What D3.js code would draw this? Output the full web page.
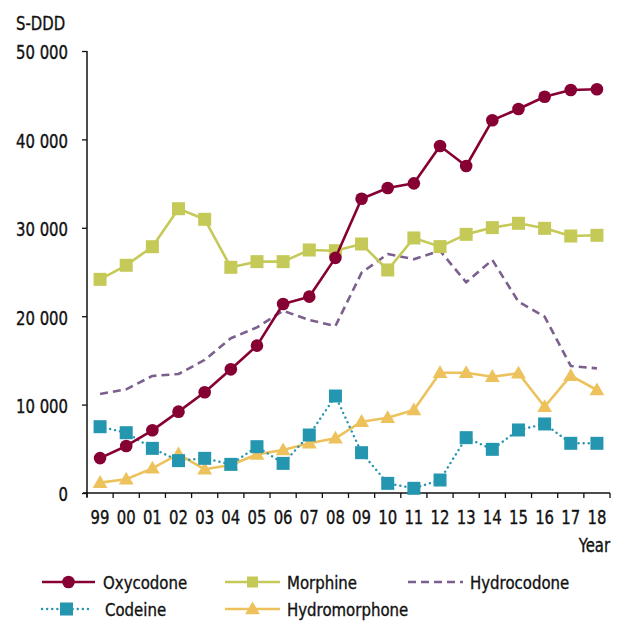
<!DOCTYPE html>
<html><head><meta charset="utf-8">
<script src="https://cdn.jsdelivr.net/npm/d3@7"></script>
<style>
body{margin:0;background:#fff;}
text{font-family:"DejaVu Sans Condensed","DejaVu Sans",sans-serif;font-stretch:condensed;fill:#111;stroke:#111;stroke-width:0.35px;}
</style></head><body>
<svg id="c" width="619" height="621"></svg>
<script>
const years = ["99","00","01","02","03","04","05","06","07","08","09","10","11","12","13","14","15","16","17","18"];
const oxycodone = [3950,5320,7090,9200,11390,13990,16670,21380,22210,26600,33290,34500,35030,39250,36990,42160,43440,44830,45590,45670];
const morphine = [24170,25760,27860,32160,30960,25530,26170,26170,27490,27410,28170,25230,28850,27870,29260,30020,30510,29940,29070,29150];
const hydrocodone = [11200,11730,13240,13460,15050,17500,18740,20620,19570,18890,24920,27040,26440,27400,23830,26360,21640,19950,14370,14100];
const codeine = [7500,6820,5050,3660,3920,3240,5240,3350,6560,10970,4560,1090,530,1470,6260,4940,7130,7810,5620,5620];
const hydromorphone = [1170,1550,2790,4410,2680,3170,4370,4860,5620,6190,8070,8520,9390,13600,13600,13160,13540,9760,13270,11650];
const yTicks = [0,10000,20000,30000,40000,50000];
const seriesNames = ["Oxycodone","Morphine","Hydrocodone","Codeine","Hydromorphone"];

const series = [
  {name:"Oxycodone", values:oxycodone, color:"#870033", marker:"circle", dash:null},
  {name:"Morphine", values:morphine, color:"#c5c957", marker:"square", dash:null},
  {name:"Hydrocodone", values:hydrocodone, color:"#7b5f8e", marker:null, dash:"8,5"},
  {name:"Codeine", values:codeine, color:"#2596b0", marker:"square", dash:"0.1,5"},
  {name:"Hydromorphone", values:hydromorphone, color:"#edc25c", marker:"triangle", dash:null}
];

const SX = 0.87;
const FS = 19;
const svg = d3.select("#c");
const L=87, R=610, T=51, B=493;
const x = d3.scaleBand().domain(years).range([L,R]);
const y = d3.scaleLinear().domain([0,50000]).range([B,T]);
const fmt = v => v===0 ? "0" : d3.format(",")(v).replace(/,/g," ");

// axes
const yAxis = svg.append("g").attr("transform",`translate(${L},0)`)
  .call(d3.axisLeft(y).tickValues(yTicks).tickSize(5).tickPadding(14).tickFormat(fmt));
yAxis.select(".domain").attr("d",`M0,${T}V${B+4}`).attr("stroke","#111").attr("stroke-width",1.5);
yAxis.selectAll(".tick line").attr("stroke","#111").attr("stroke-width",1.3);
yAxis.selectAll(".tick text").style("font-size",FS+"px").attr("dy","0.42em").attr("fill","#111")
  .attr("x",-19/SX).attr("transform",`scale(${SX},1)`);

const xAxis = svg.append("g").attr("transform",`translate(0,${B})`)
  .call(d3.axisBottom(x).tickSize(0).tickPadding(10));
xAxis.select(".domain").attr("d",`M${L-4},0H${R}`).attr("stroke","#111").attr("stroke-width",1.5);
xAxis.selectAll(".tick text").style("font-size",FS+"px").attr("fill","#111").attr("dy","1.1em")
  .attr("transform",`scale(${SX},1)`);
const bounds = years.map(d=>x(d)).concat([R]);
svg.append("g").selectAll("line").data(bounds).join("line")
  .attr("x1",d=>d).attr("x2",d=>d).attr("y1",B).attr("y2",B+5)
  .attr("stroke","#111").attr("stroke-width",1.3);

function label(px, py, str, size, anchor){
  return svg.append("text").attr("transform",`translate(${px},${py}) scale(${SX},1)`)
    .attr("text-anchor",anchor||"start").style("font-size",size+"px").text(str);
}
label(16, 30, "S-DDD", FS);
label(R, 552, "Year", FS, "end");

const cx = d => x(d) + x.bandwidth()/2;
const line = d3.line().x((d,i)=>cx(years[i])).y(d=>y(d));

function drawMarker(g, type, px, py, color, sq){
  if(type==="circle") g.append("circle").attr("cx",px).attr("cy",py).attr("r",6.3).attr("fill",color);
  else if(type==="square"){ const s = sq||13; g.append("rect").attr("x",px-s/2).attr("y",py-s/2).attr("width",s).attr("height",s).attr("fill",color); }
  else if(type==="triangle") g.append("path").attr("d",d3.symbol().type(d3.symbolTriangle).size(95)()).attr("transform",`translate(${px},${py+1})`).attr("fill",color);
}

const order = [2,4,3,1,0];
order.forEach(k=>{
  const s = series[k];
  const g = svg.append("g");
  g.append("path").datum(s.values).attr("d",line).attr("fill","none")
    .attr("stroke",s.color).attr("stroke-width",s.name==="Codeine"?2.4:2.6)
    .attr("stroke-dasharray",s.dash).attr("stroke-linecap",s.name==="Codeine"?"round":"butt")
    .attr("stroke-linejoin","round");
  if(s.marker) s.values.forEach((v,i)=>drawMarker(g,s.marker,cx(years[i]),y(v),s.color));
});

// legend
const legPos = [
  {lx:42, lw:53, tx:103, y:582, sq:13},
  {lx:225, lw:55, tx:287, y:582, sq:11},
  {lx:408, lw:55, tx:470, y:582, sq:13},
  {lx:42, lw:49, tx:105, y:609, sq:13},
  {lx:225, lw:55, tx:287, y:609, sq:13}
];
const lg = svg.append("g");
series.forEach((s,i)=>{
  const p = legPos[i];
  lg.append("line").attr("x1",p.lx).attr("x2",p.lx+p.lw).attr("y1",p.y).attr("y2",p.y)
    .attr("stroke",s.color).attr("stroke-width",s.name==="Codeine"?2.4:2.6)
    .attr("stroke-dasharray",s.dash).attr("stroke-linecap",s.name==="Codeine"?"round":"butt");
  if(s.marker) drawMarker(lg,s.marker,p.lx+p.lw/2,p.y,s.color,p.sq);
  lg.append("text").attr("transform",`translate(${p.tx},${p.y}) scale(0.9,1)`).attr("dy","0.36em")
    .style("font-size","18.5px").text(seriesNames[i]);
});
</script></body></html>
